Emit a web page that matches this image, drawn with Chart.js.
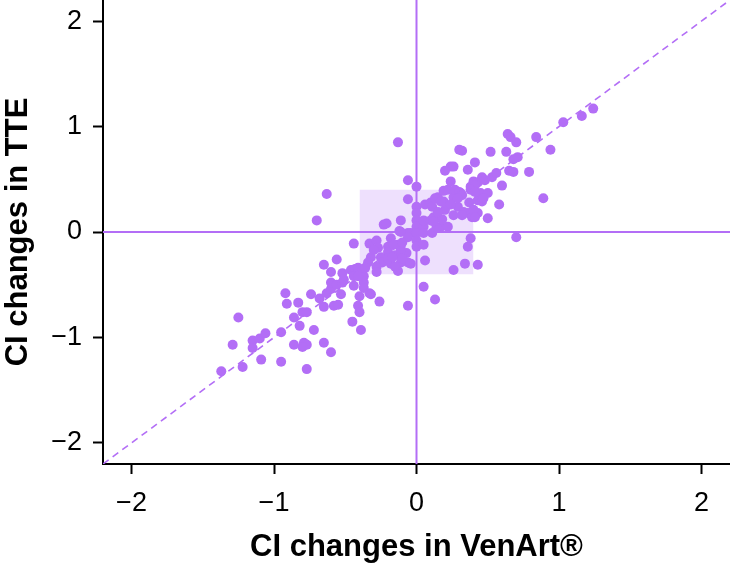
<!DOCTYPE html>
<html>
<head>
<meta charset="utf-8">
<script src="https://cdn.jsdelivr.net/npm/chart.js@4.4.1/dist/chart.umd.min.js"></script>
<style>
    html, body { margin: 0; padding: 0; background: #fff; }
    #wrap { width: 730px; height: 570px; }
</style>
</head>
<body>
<div id="wrap"><canvas id="ciChart" width="730" height="570"></canvas></div>
<script>
// CI changes measured with VenArt® (x) and with TTE (y), one entry per patient
const venartChanges = [
    -1.37, -1.22, -1.29, -1.25, -1.15, -1.15, -1.10, -1.06, -1.09, -0.95,
    -0.95, -0.92, -0.91, -0.83, -0.74, -0.68, -0.63, -0.65, -0.58, -0.55,
    -0.86, -0.80, -0.77, -0.82, -0.72, -0.86, -0.79, -0.77, -0.80, -0.65,
    -0.60, -0.77, -0.60, -0.60, -0.56, -0.53, -0.52, -0.44, -0.37, -0.40,
    -0.37, -0.33, -0.32, -0.26, -0.41, -0.40, -0.45, -0.39, -0.65, -0.56,
    -0.60, -0.52, -0.51, -0.46, -0.43, -0.41, -0.38, -0.37, -0.44, -0.41,
    -0.44, -0.33, -0.28, -0.27, -0.20, -0.20, -0.13, -0.11, -0.12, -0.06,
    -0.07, -0.06, -0.18, -0.11, -0.25, -0.24, -0.32, -0.34, -0.28, -0.28,
    -0.36, -0.13, -0.06, -0.30, -0.20, -0.15, -0.11, -0.04, -0.18, -0.23,
    -0.21, -0.11, -0.11, -0.04, -0.06, 0.00, 0.00, 0.00, 0.00, 0.00,
    0.00, 0.00, 0.00, -0.06, -0.06, -0.13, -0.63, -0.70, 0.05, 0.13,
    0.05, 0.06, 0.05, 0.05, 0.11, 0.17, 0.22, 0.05, 0.10, 0.12,
    0.06, 0.10, 0.15, 0.19, 0.22, 0.26, 0.24, 0.14, 0.38, 0.36,
    0.43, 0.34, 0.26, 0.18, 0.19, 0.20, 0.70, 0.31, 0.38, 0.43,
    0.45, 0.50, 0.37, 0.43, 0.36, 0.43, 0.29, 0.33, 0.50, 0.39,
    0.27, 0.30, 0.40, 0.41, 0.38, 0.41, 0.46, 0.47, 0.58, 0.40,
    0.41, 0.60, 0.46, 0.48, 0.53, 0.56, 0.65, 0.68, 0.79, 0.89,
    0.24, 0.26, 0.20, 0.36, 0.41, 0.30, 0.32, 0.52, 0.63, 0.71,
    0.68, 0.64, 0.66, 0.70, 0.84, 0.94, 1.03, 1.16, 1.24, -0.16,
    -0.10, -0.10, -0.15, -0.17, 0.11, 0.13, 0.17, 0.15, 0.12, 0.24,
    0.26, 0.32, 0.32, 0.29
];
const tteChanges = [
    -1.32, -1.28, -1.07, -0.81, -1.03, -1.10, -1.01, -0.96, -1.21, -1.23,
    -0.95, -0.58, -0.68, -0.67, -0.59, -0.63, -0.58, -0.71, -0.70, -0.69,
    -0.81, -0.76, -0.76, -0.89, -0.93, -1.07, -1.05, -1.07, -1.09, -1.05,
    -1.14, -1.30, -0.54, -0.48, -0.50, -0.59, -0.48, -0.51, -0.48, -0.61,
    -0.53, -0.58, -0.59, -0.66, -0.70, -0.76, -0.85, -0.93, -0.31, -0.26,
    -0.38, -0.39, -0.45, -0.36, -0.35, -0.34, -0.37, -0.42, -0.42, -0.42,
    -0.11, -0.11, -0.08, -0.15, -0.14, -0.19, -0.12, -0.13, 0.01, -0.01,
    -0.20, -0.29, -0.30, -0.29, -0.24, -0.29, -0.24, -0.29, -0.33, -0.38,
    -0.34, -0.37, -0.70, -0.17, -0.25, -0.22, -0.17, -0.30, -0.06, 0.07,
    0.08, 0.11, 0.00, -0.01, -0.05, 0.43, 0.24, 0.18, 0.11, 0.05,
    -0.01, -0.08, -0.14, 0.49, 0.31, 0.85, 0.36, 0.11, -0.52, -0.64,
    -0.12, -0.27, 0.05, -0.01, -0.01, 0.05, 0.05, 0.11, 0.11, 0.14,
    0.26, 0.28, 0.33, 0.39, 0.40, 0.33, 0.48, 0.04, -0.06, -0.14,
    -0.31, -0.30, -0.36, 0.12, 0.29, 0.21, -0.05, 0.37, 0.43, 0.47,
    0.37, 0.37, 0.28, 0.30, 0.18, 0.18, 0.24, 0.19, 0.13, 0.14,
    0.40, 0.38, 0.48, 0.44, 0.40, 0.38, 0.29, 0.32, 0.26, 0.21,
    0.14, 0.44, 0.52, 0.49, 0.52, 0.56, 0.58, 0.57, 0.57, 0.32,
    0.62, 0.62, 0.58, 0.59, 0.66, 0.78, 0.77, 0.76, 0.76, 0.71,
    0.69, 0.93, 0.90, 0.85, 0.90, 0.78, 1.04, 1.10, 1.17, -0.12,
    -0.10, -0.25, -0.33, -0.24, 0.24, 0.32, 0.29, 0.19, 0.10, 0.26,
    0.16, 0.16, 0.35, 0.32
];

const axisMin = -2.2;
const axisMax = 2.2;
const xTicks = [-2, -1, 0, 1, 2];
const yTicks = [-2, -1, 0, 1, 2];
const xTickLabels = ['\u22122', '\u22121', '0', '1', '2'];
const yTickLabels = ['\u22122', '\u22121', '0', '1', '2'];
const agreementZone = 0.4;   // shaded band of +/- 0.4 around zero

const purple = '#b36ef6';
const zoneFill = '#eee0fd';

const points = venartChanges.map((x, i) => ({ x: x, y: tteChanges[i] }));

const axisFont = { family: '"Liberation Sans", Arial, sans-serif', size: 27 };
const titleFont = { family: '"Liberation Sans", Arial, sans-serif', size: 31, weight: 'bold' };

new Chart(document.getElementById('ciChart'), {
    type: 'scatter',
    data: {
        datasets: [
            {
                label: 'Patients',
                data: points,
                backgroundColor: purple,
                borderWidth: 0,
                pointRadius: 5,
                order: 0
            },
            {
                label: 'Identity',
                type: 'line',
                data: [{ x: axisMin, y: axisMin }, { x: axisMax, y: axisMax }],
                borderColor: purple,
                borderWidth: 1.6,
                borderDash: [7, 5],
                pointRadius: 0,
                order: 1
            },
            {
                label: 'Zero x',
                type: 'line',
                data: [{ x: 0, y: axisMin }, { x: 0, y: axisMax }],
                borderColor: purple,
                borderWidth: 2,
                pointRadius: 0,
                order: 1
            },
            {
                label: 'Zero y',
                type: 'line',
                data: [{ x: axisMin, y: 0 }, { x: axisMax, y: 0 }],
                borderColor: purple,
                borderWidth: 2,
                pointRadius: 0,
                order: 1
            },
            {
                label: 'Zone',
                type: 'line',
                data: [{ x: -agreementZone, y: agreementZone }, { x: agreementZone, y: agreementZone }],
                borderWidth: 0,
                pointRadius: 0,
                backgroundColor: zoneFill,
                fill: { value: -agreementZone },
                order: 2
            }
        ]
    },
    options: {
        responsive: false,
        animation: false,
        devicePixelRatio: 1,
        layout: { padding: 0, autoPadding: false },
        plugins: {
            legend: { display: false },
            tooltip: { enabled: false }
        },
        scales: {
            x: {
                type: 'linear',
                min: axisMin,
                max: axisMax,
                afterFit: (scale) => {
                    scale.height = 106;
                    scale.paddingLeft = 0;
                    scale.paddingRight = 0;
                },
                afterBuildTicks: (scale) => { scale.ticks = xTicks.map(v => ({ value: v })); },
                border: { display: true, color: '#000', width: 2 },
                grid: { drawOnChartArea: false, drawTicks: true, tickLength: 10, tickColor: '#000', tickWidth: 2 },
                ticks: {
                    color: '#000',
                    font: axisFont,
                    padding: 13,
                    maxRotation: 0,
                    callback: (value) => xTickLabels[xTicks.indexOf(value)]
                },
                title: {
                    display: true,
                    text: 'CI changes in VenArt®',
                    color: '#000',
                    font: titleFont,
                    padding: { top: 0, bottom: 4 }
                }
            },
            y: {
                type: 'linear',
                min: axisMin,
                max: axisMax,
                afterFit: (scale) => {
                    scale.width = 103;
                    scale.paddingTop = 0;
                    scale.paddingBottom = 0;
                },
                afterBuildTicks: (scale) => { scale.ticks = yTicks.map(v => ({ value: v })); },
                border: { display: true, color: '#000', width: 2 },
                grid: { drawOnChartArea: false, drawTicks: true, tickLength: 10, tickColor: '#000', tickWidth: 2 },
                ticks: {
                    color: '#000',
                    font: axisFont,
                    padding: 11,
                    callback: (value) => yTickLabels[yTicks.indexOf(value)]
                },
                title: {
                    display: true,
                    text: 'CI changes in TTE',
                    color: '#000',
                    font: titleFont,
                    padding: { top: 0, bottom: 0 }
                }
            }
        }
    }
});
</script>
</body>
</html>
